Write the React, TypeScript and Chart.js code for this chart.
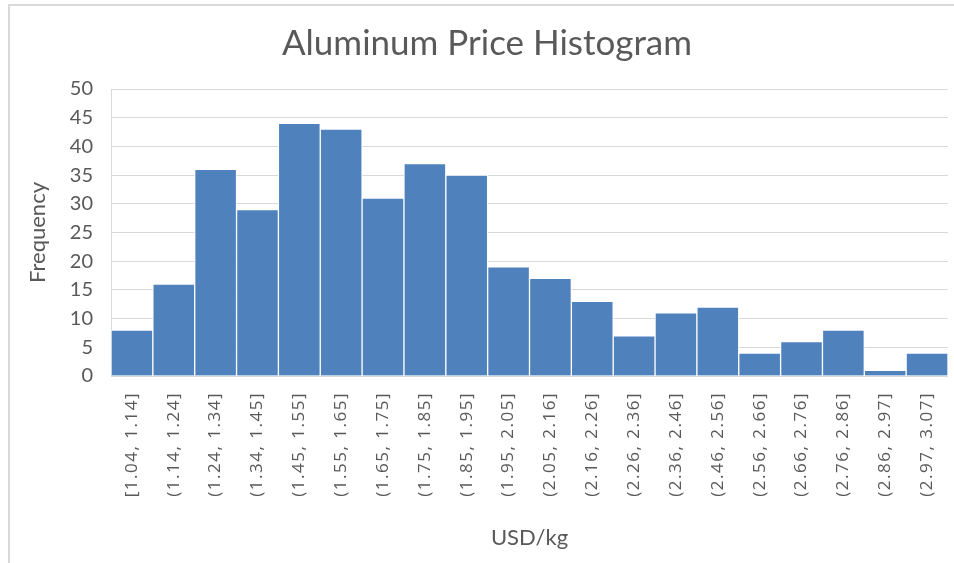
import React, { useEffect, useRef } from "react";
import { Chart, registerables } from "chart.js";

Chart.register(...registerables);

const TITLE = "Aluminum Price Histogram";
const X_TITLE = "USD/kg";
const Y_TITLE = "Frequency";

const binLabels: string[] = [
  "[1.04, 1.14]",
  "(1.14, 1.24]",
  "(1.24, 1.34]",
  "(1.34, 1.45]",
  "(1.45, 1.55]",
  "(1.55, 1.65]",
  "(1.65, 1.75]",
  "(1.75, 1.85]",
  "(1.85, 1.95]",
  "(1.95, 2.05]",
  "(2.05, 2.16]",
  "(2.16, 2.26]",
  "(2.26, 2.36]",
  "(2.36, 2.46]",
  "(2.46, 2.56]",
  "(2.56, 2.66]",
  "(2.66, 2.76]",
  "(2.76, 2.86]",
  "(2.86, 2.97]",
  "(2.97, 3.07]",
];

const frequencies: number[] = [8, 16, 36, 29, 44, 43, 31, 37, 35, 19, 17, 13, 7, 11, 12, 4, 6, 8, 1, 4];

const yTicks = { min: 0, max: 50, step: 5 };

const TEXT = "#595959";
const GRID = "#d9d9d9";
const BAR = "#4f81bd";
const FONT = "Lato, 'Open Sans', sans-serif";
const TICK_FONT = "'Open Sans', Lato, sans-serif";

// Draws the chart title centred over the whole chart frame, and gives the
// rotated x tick labels (drawn after the bars) a little letter spacing.
const excelLook = {
  id: "excelLook",
  afterDatasetsDraw(chart: any) {
    (chart.ctx as any).letterSpacing = "1.5px";
  },
  afterDraw(chart: any) {
    const ctx = chart.ctx as any;
    ctx.letterSpacing = "0px";
    ctx.save();
    ctx.font = `normal 35px ${FONT}`;
    ctx.fillStyle = TEXT;
    ctx.textAlign = "center";
    ctx.textBaseline = "alphabetic";
    ctx.fillText(TITLE, 487, 55);
    ctx.restore();
  },
};

export default function App() {
  const ref = useRef<HTMLCanvasElement | null>(null);

  useEffect(() => {
    if (!ref.current) return;
    const chart = new Chart(ref.current, {
      type: "bar",
      data: {
        labels: binLabels,
        datasets: [
          {
            label: "Frequency",
            data: frequencies,
            backgroundColor: BAR,
            borderColor: "#ffffff",
            borderWidth: 1,
            barPercentage: 1,
            categoryPercentage: 1,
          },
        ],
      },
      plugins: [excelLook],
      options: {
        animation: false,
        responsive: false,
        maintainAspectRatio: false,
        layout: { padding: { left: 0, right: 6, top: 89, bottom: 0 } },
        plugins: {
          legend: { display: false },
          tooltip: { enabled: false },
          title: { display: false },
        },
        scales: {
          x: {
            grid: { display: false, drawTicks: false },
            border: { display: false },
            ticks: {
              z: 1,
              color: TEXT,
              font: { family: TICK_FONT, size: 17 },
              minRotation: 90,
              maxRotation: 90,
              autoSkip: false,
              padding: 16,
            },
            title: {
              display: true,
              text: X_TITLE,
              color: TEXT,
              font: { family: FONT, size: 22 },
              padding: { top: 0, bottom: 12 },
            },
            afterFit: (scale: any) => {
              scale.height = 187;
              scale.paddingLeft = 0;
              scale.paddingRight = 0;
            },
          },
          y: {
            min: yTicks.min,
            max: yTicks.max,
            grid: { color: GRID, lineWidth: 1, drawTicks: false },
            border: { display: true, color: GRID, width: 1 },
            ticks: {
              stepSize: yTicks.step,
              color: TEXT,
              font: { family: FONT, size: 20 },
              padding: 18,
            },
            title: {
              display: true,
              text: Y_TITLE,
              color: TEXT,
              font: { family: FONT, size: 22 },
              padding: { top: 25, bottom: 0 },
            },
            afterFit: (scale: any) => {
              scale.width = 111;
              scale.paddingTop = 0;
            },
          },
        },
      },
    });
    return () => chart.destroy();
  }, []);

  return (
    <div style={{ position: "fixed", left: 0, top: 0, width: 954, height: 563, background: "#ffffff" }}>
      <div
        style={{
          position: "absolute",
          left: 8,
          top: 4,
          width: 960,
          height: 570,
          borderLeft: "2px solid #d9d9d9",
          borderTop: "2px solid #d9d9d9",
        }}
      />
      <canvas ref={ref} width={954} height={563} style={{ position: "absolute", left: 0, top: 0 }} />
    </div>
  );
}
